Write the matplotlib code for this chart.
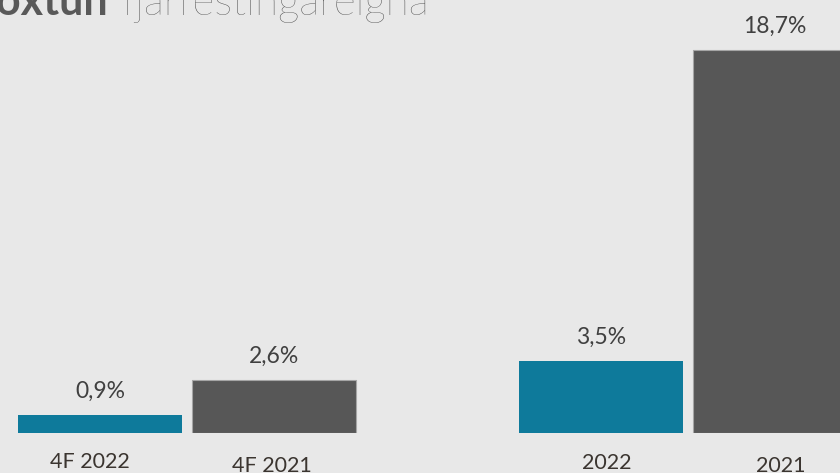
import matplotlib
matplotlib.use("Agg")
import matplotlib.pyplot as plt

# ---- data ----
categories = ["4F 2022", "4F 2021", "2022", "2021"]
values = [0.9, 2.6, 3.5, 18.7]
value_labels = ["0,9%", "2,6%", "3,5%", "18,7%"]
groups = [0, 0, 1, 1]          # quarter group / full-year group
within = [0, 1, 0, 1]          # position inside group
title_bold = "Vöxtun"
title_light = "fjárfestingareigna"

# ---- style ----
BG = "#e8e8e8"
colors = ["#0e7a9b", "#575757", "#0e7a9b", "#575757"]
edges = ["none", "#a5a5a5", "none", "#a5a5a5"]
GROUP_GAP = 2.88
BAR_W = 0.943
label_dx = [-10, -2, 6, 6]      # pixel nudges of category labels
label_dy = [-29, -33, -30, -33]

W, H, DPI = 840, 473, 100
fig = plt.figure(figsize=(W / DPI, H / DPI), dpi=DPI, facecolor=BG)
ax = fig.add_axes([0, 40 / H, 1, 433 / H])
ax.set_facecolor(BG)

xs = [g * GROUP_GAP + w for g, w in zip(groups, within)]
bars = ax.bar(xs, values, width=BAR_W, color=colors, edgecolor=edges, linewidth=0.8)

ax.set_xlim(-0.575, -0.575 + W / 174)
ax.set_ylim(0, 433 / 20.5)
ax.axis("off")

FONT = ["Lato", "DejaVu Sans"]
for x, v, lab in zip(xs, values, value_labels):
    ax.annotate(lab, (x, v), xytext=(0, 17), textcoords="offset pixels",
                ha="center", va="baseline", fontsize=16.5, color="#404040",
                family=FONT)

for x, cat, dx, dy in zip(xs, categories, label_dx, label_dy):
    ax.annotate(cat, (x, 0), xytext=(dx, dy), textcoords="offset pixels",
                ha="center", va="center", fontsize=15.5, color="#3b3530",
                family=FONT, annotation_clip=False)

# title (partially cut off at the top-left, as in the reference)
fig.text(108 / W, (H - 15) / H, title_bold, ha="right", va="baseline",
         fontsize=31, fontweight="bold", color="#595959", family=FONT)
fig.text(122 / W, (H - 15) / H, title_light, ha="left", va="baseline",
         fontsize=30.5, fontweight="light", color="#474747", family=FONT)

fig.savefig("out.png", dpi=DPI, facecolor=BG)
